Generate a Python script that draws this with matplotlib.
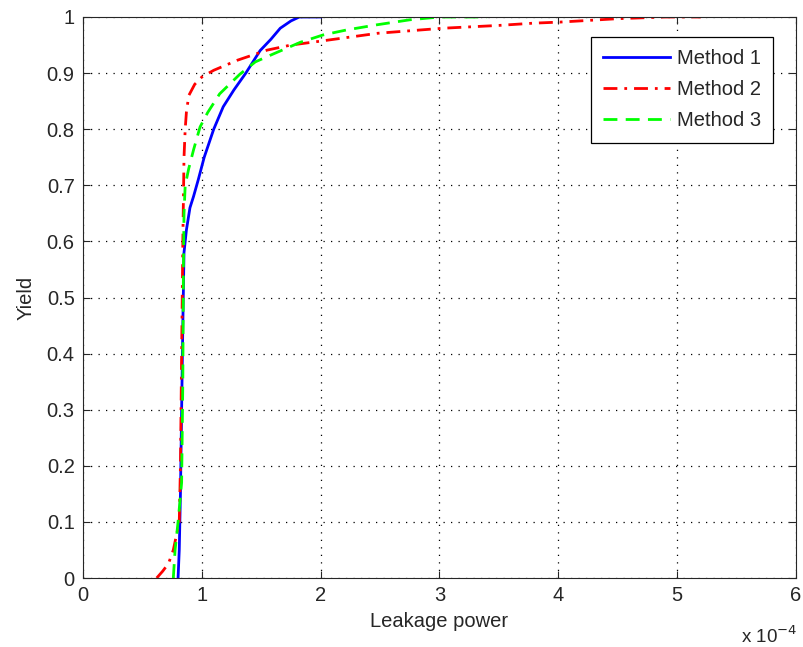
import numpy as np
import matplotlib.pyplot as plt

# leakage power values in units of 1e-4, yield as fraction
m1_x = [0.80, 0.81, 0.82, 0.83, 0.84, 0.85, 0.87, 0.90, 0.93, 0.97, 1.02, 1.10,
        1.18, 1.27, 1.37, 1.49, 1.58, 1.66, 1.75, 1.82, 1.90, 2.00]
m1_y = [0.0, 0.05, 0.15, 0.30, 0.45, 0.58, 0.62, 0.66, 0.68, 0.71, 0.75, 0.80,
        0.84, 0.87, 0.90, 0.94, 0.96, 0.98, 0.993, 1.0, 1.0, 1.0]

m2_x = [0.62, 0.67, 0.72, 0.76, 0.79, 0.81, 0.82, 0.83, 0.84, 0.85, 0.86, 0.87,
        0.89, 0.94, 1.00, 1.10, 1.30, 1.55, 1.75, 2.00, 2.48, 3.03, 3.50, 3.79,
        4.02, 4.50, 4.90, 5.20]
m2_y = [0.0, 0.012, 0.026, 0.05, 0.08, 0.10, 0.20, 0.40, 0.60, 0.75, 0.80, 0.83,
        0.86, 0.88, 0.893, 0.905, 0.923, 0.941, 0.95, 0.957, 0.971, 0.980, 0.985,
        0.989, 0.991, 0.997, 1.0, 1.0]

m3_x = [0.76, 0.775, 0.80, 0.83, 0.84, 0.845, 0.85, 0.86, 0.89, 0.93, 0.985, 1.05,
        1.15, 1.32, 1.45, 1.60, 1.83, 2.02, 2.22, 2.47, 2.75, 3.00, 3.40]
m3_y = [0.0, 0.05, 0.10, 0.17, 0.35, 0.55, 0.65, 0.70, 0.73, 0.763, 0.804, 0.83,
        0.863, 0.898, 0.92, 0.934, 0.955, 0.968, 0.977, 0.986, 0.995, 1.0, 1.0]

labels = ["Method 1", "Method 2", "Method 3"]

ink = "#262626"
plt.rcParams["font.family"] = ["Liberation Sans", "DejaVu Sans"]
plt.rcParams["font.size"] = 14.5
plt.rcParams["text.color"] = ink
plt.rcParams["axes.labelcolor"] = ink
plt.rcParams["xtick.color"] = ink
plt.rcParams["ytick.color"] = ink

fig = plt.figure(figsize=(8.04, 6.47), dpi=100)
ax = fig.add_axes([83 / 804, 1 - 578 / 647, (796 - 83) / 804, (578 - 17) / 647])

ax.plot(m1_x, m1_y, color=(0, 0, 1), lw=2.0, ls="-", label=labels[0])
ax.plot(m2_x, m2_y, color=(1, 0, 0), lw=2.0, ls=(0, (5, 2.5, 1, 2.5)), label=labels[1])
ax.plot(m3_x, m3_y, color=(0, 1, 0), lw=2.0, ls=(0, (5, 3)), label=labels[2])

ax.set_xlim(0, 6)
ax.set_ylim(0, 1)
ax.set_xticks(np.arange(0, 7, 1))
ax.set_yticks(np.round(np.arange(0, 1.01, 0.1), 1))
ax.set_yticklabels(["0"] + [f"{v:.1f}" for v in np.arange(0.1, 0.95, 0.1)] + ["1"])
ax.tick_params(direction="in", top=True, right=True, length=5, width=0.8, pad=6)
ax.grid(True, color="black", linestyle=(0, (1, 5)), linewidth=0.9)
for s in ax.spines.values():
    s.set_linewidth(0.8)
    s.set_color(ink)

ax.set_xlabel("Leakage power", labelpad=5)
ax.set_ylabel("Yield", labelpad=8)
fig.text(741 / 804, 1 - 636 / 647, "x 10$^{-4}$", ha="left", va="center", fontsize=13.5)

leg = ax.legend(loc="upper right", bbox_to_anchor=(0.968, 0.964), handlelength=3.3,
                fancybox=False, framealpha=1, edgecolor="black", borderpad=0.6,
                labelspacing=0.6, handletextpad=0.35, borderaxespad=0)
leg.get_frame().set_linewidth(0.9)

fig.savefig("out.png", dpi=100)
